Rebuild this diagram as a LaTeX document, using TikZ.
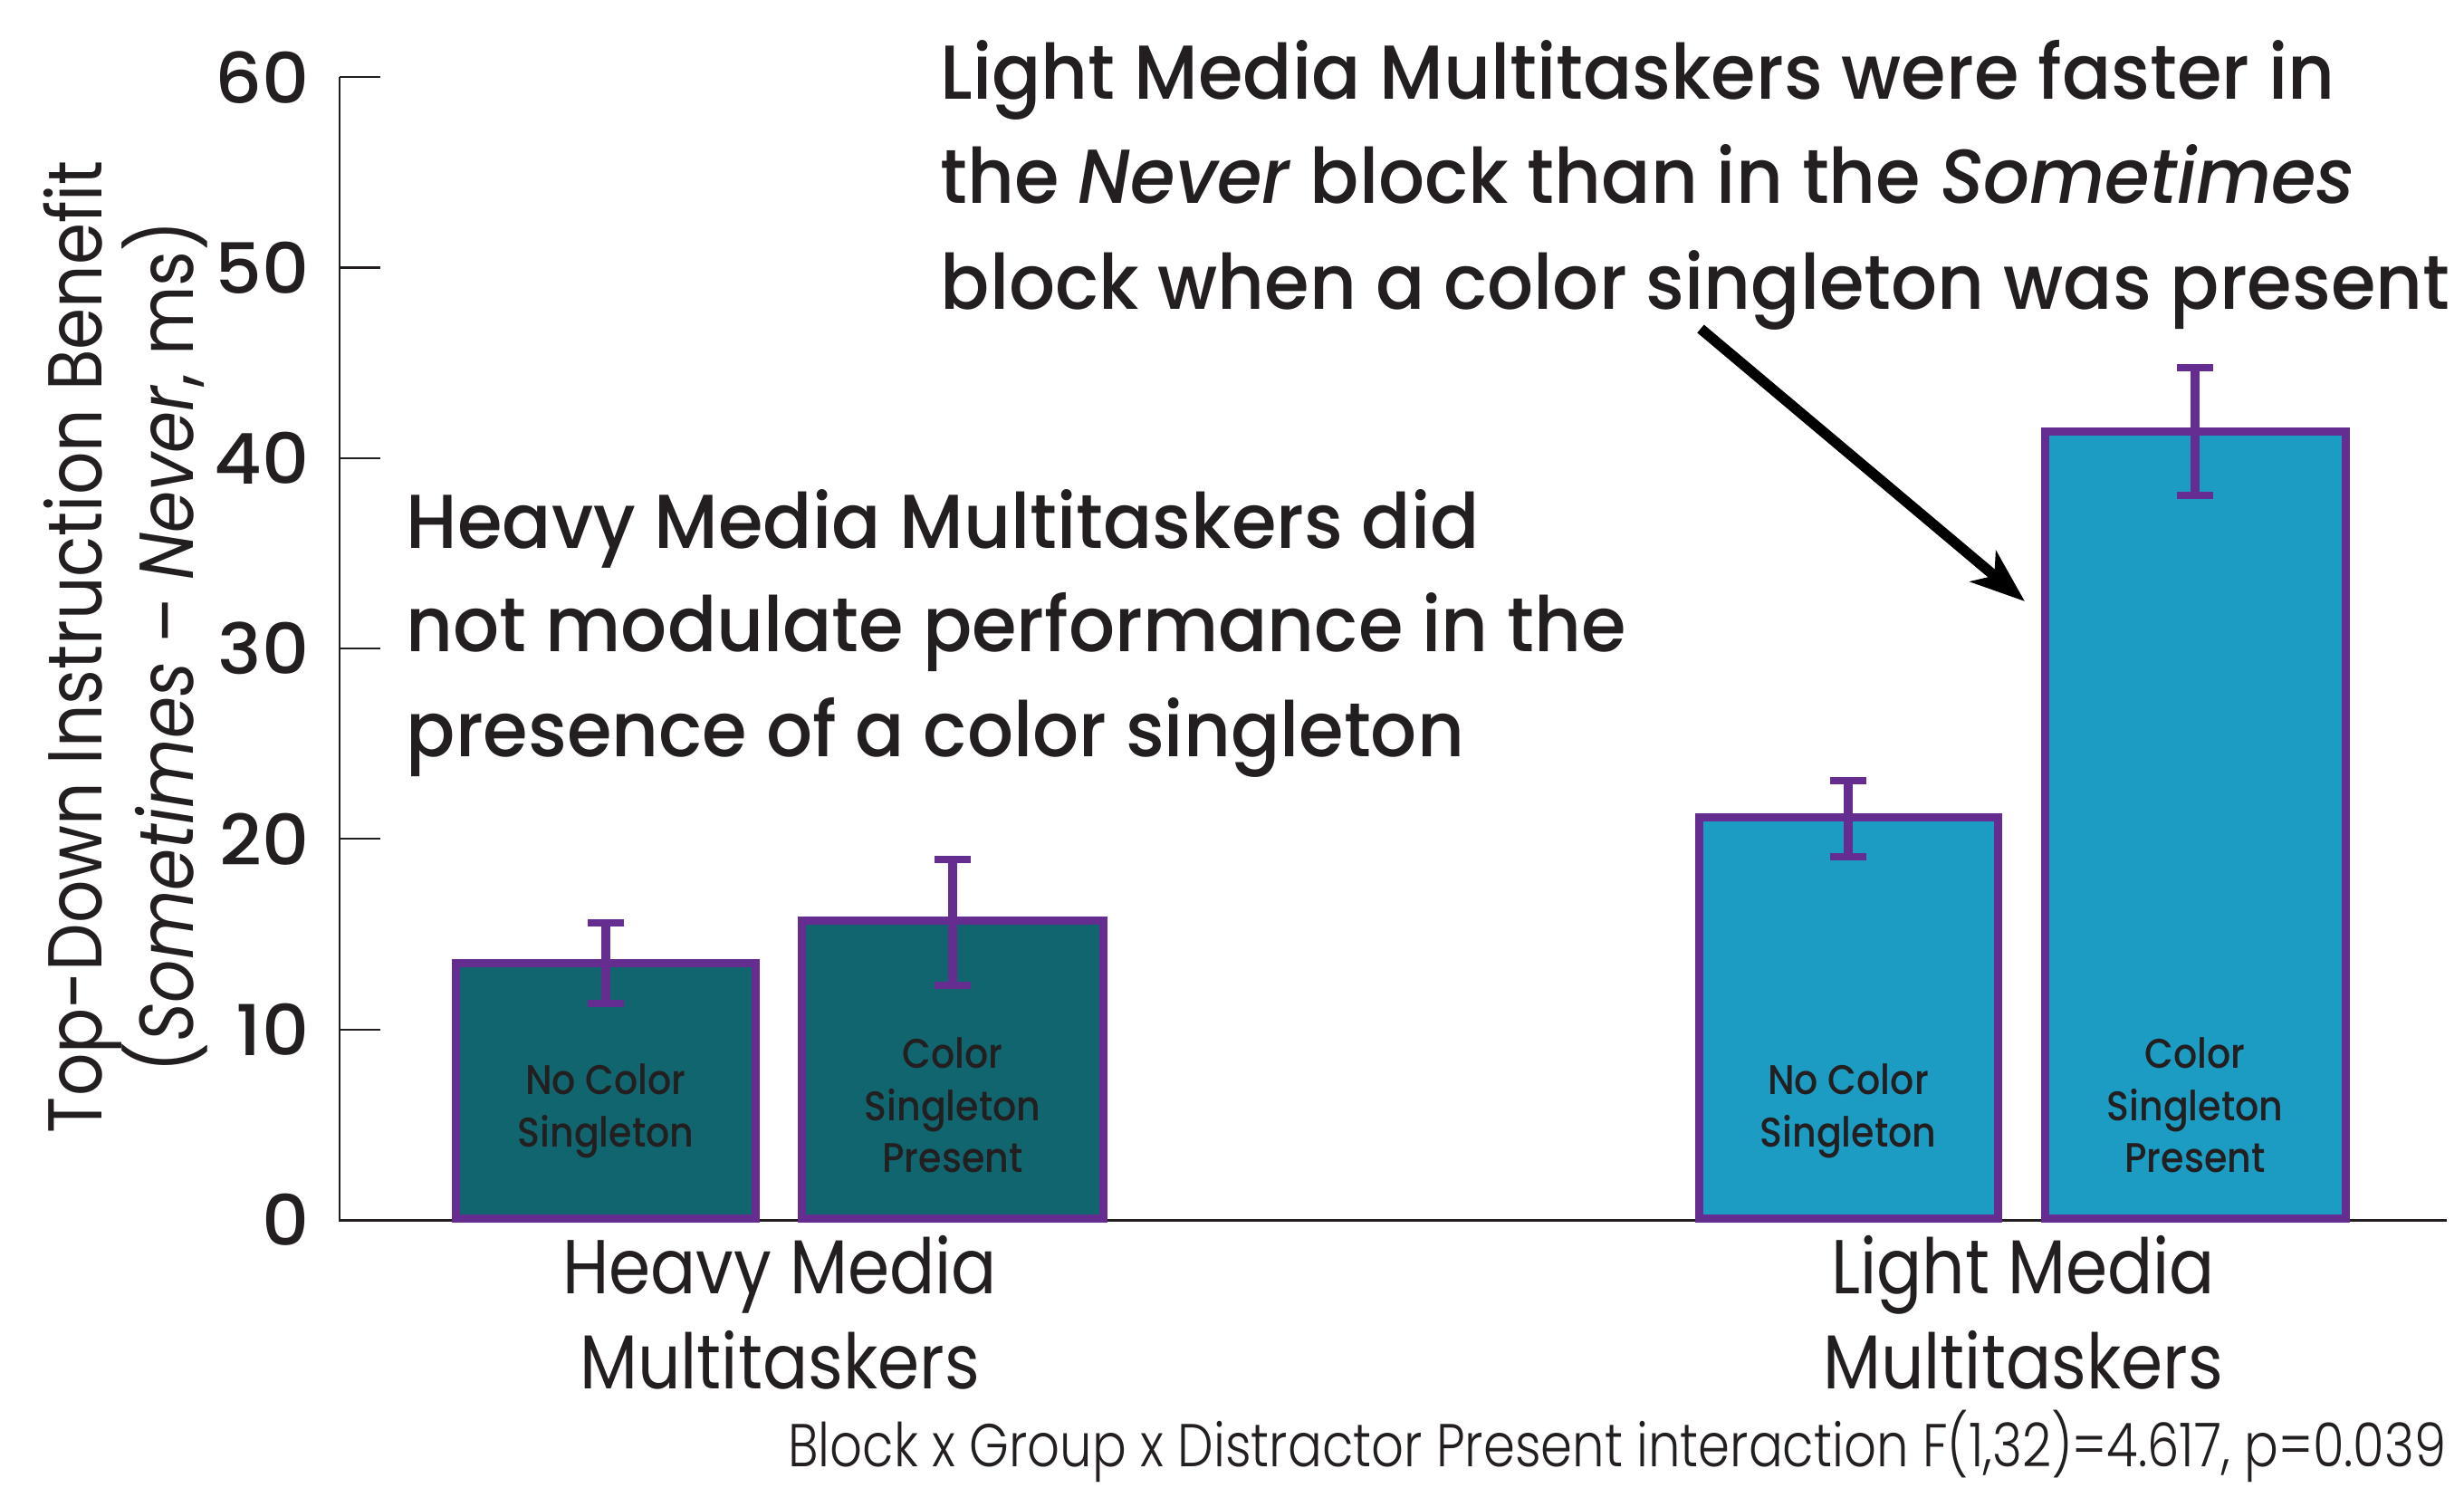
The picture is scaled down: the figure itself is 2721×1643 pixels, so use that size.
\documentclass[tikz,border=0pt]{standalone}
\usepackage{fontspec}
\setmainfont{Poppins}[FakeStretch=0.88]
\IfFontExistsTF{Poppins Light}{\newfontfamily\lightfont{Poppins Light}[FakeStretch=0.84]}{\newfontfamily\lightfont{Poppins}[FakeStretch=0.84]}
\IfFontExistsTF{Poppins Medium}{%
  \newfontfamily\annfont{Poppins Medium}[FakeStretch=0.95]%
  \newfontfamily\tickfont{Poppins Medium}[FakeStretch=1.05]%
  \newfontfamily\barfont{Poppins Medium}[FakeStretch=0.9]%
}{%
  \newfontfamily\annfont{Poppins}[FakeStretch=0.96,FakeBold=0.6]%
  \newfontfamily\tickfont{Poppins}[FakeStretch=1.08,FakeBold=0.6]%
  \newfontfamily\barfont{Poppins}[FakeStretch=0.92,FakeBold=0.6]%
}
\usetikzlibrary{arrows.meta}
\definecolor{hmm}{HTML}{10656F}
\definecolor{lmm}{HTML}{1C9BC3}
\definecolor{purp}{HTML}{662D91}
\definecolor{ink}{HTML}{231F20}
\begin{document}
\begin{tikzpicture}[x=0.01cm,y=-0.01cm,
  txt/.style={inner sep=0pt, text=ink},
  ann/.style={txt, anchor=base west, font=\annfont\fontsize{24pt}{24pt}\selectfont},
  xlab/.style={txt, anchor=base, font=\fontsize{24pt}{24pt}\selectfont},
  ylab/.style={txt, anchor=base, rotate=90, font=\fontsize{24pt}{24pt}\selectfont},
  ticklab/.style={txt, anchor=east, font=\tickfont\fontsize{22pt}{22pt}\selectfont},
  barlab/.style={txt, anchor=base, font=\barfont\fontsize{13pt}{13pt}\selectfont},
  barbox/.style={draw=purp, line width=2.56pt},
  errstem/.style={draw=purp, line width=2.85pt},
  errcap/.style={draw=purp, line width=2.3pt},
  axisline/.style={draw=ink, line width=0.85pt},
  tickline/.style={draw=ink, line width=0.6pt},
  pointer/.style={draw=black, line width=3.3pt, -{Stealth[length=17pt,width=12.5pt,inset=4.5pt]}}
]
\useasboundingbox (0,0) rectangle (2721,1643);

% axes
\draw[axisline] (375,85) -- (375,1347) -- (2702,1347);
\foreach \v in {0,10,...,60}{
  \draw[tickline] (375,{1347-21.03*\v}) -- (420,{1347-21.03*\v});
  \node[ticklab] (t\v) at (342,{1347-21.03*\v}) {\v};
}

% bars
\draw[barbox, fill=hmm] (503.5,1345.5) rectangle (834.5,1063.5);
\draw[barbox, fill=hmm] (885.5,1345.5) rectangle (1218.5,1016.5);
\draw[barbox, fill=lmm] (1876.5,1345.5) rectangle (2206.5,902.5);
\draw[barbox, fill=lmm] (2258.5,1345.5) rectangle (2590.5,476.5);

% error bars
\draw[errstem] (669,1019) -- (669,1108);
\draw[errcap] (649,1019) -- (689,1019) (649,1108) -- (689,1108);
\draw[errstem] (1052,949) -- (1052,1088);
\draw[errcap] (1032,949) -- (1072,949) (1032,1088) -- (1072,1088);
\draw[errstem] (2041,862) -- (2041,946);
\draw[errcap] (2021,862) -- (2061,862) (2021,946) -- (2061,946);
\draw[errstem] (2424,406) -- (2424,547);
\draw[errcap] (2404,406) -- (2444,406) (2404,547) -- (2444,547);

% bar labels
\node[barlab] (b1a) at (669,1208) {No Color};
\node[barlab] (b1b) at (669,1266) {Singleton};
\node[barlab] (b2a) at (1052,1179) {Color};
\node[barlab] (b2b) at (1052,1237) {Singleton};
\node[barlab] (b2c) at (1052,1294) {Present};
\node[barlab] (b3a) at (2041,1208) {No Color};
\node[barlab] (b3b) at (2041,1266) {Singleton};
\node[barlab] (b4a) at (2424,1179) {Color};
\node[barlab] (b4b) at (2424,1237) {Singleton};
\node[barlab] (b4c) at (2424,1294) {Present};

% y axis label
\node[ylab] (y1) at (112,714) {Top-Down Instruction Benefit};
\node[ylab] (y2) at (213,714) {(\textit{Sometimes} – \textit{Never}, ms)};

% x labels
\node[xlab] (x1a) at (861,1428) {Heavy Media};
\node[xlab] (x1b) at (861,1533) {Multitaskers};
\node[xlab] (x2a) at (2234,1428) {Light Media};
\node[xlab] (x2b) at (2234,1533) {Multitaskers};

% annotations
\node[ann] (l1) at (1038,110) {Light Media Multitaskers were faster in};
\node[ann] (l2) at (1038,225) {the \textit{Never} block than in the \textit{Sometimes}};
\node[ann] (l3) at (1038,342) {block when a color singleton was present};
\node[ann] (h1) at (448,606) {Heavy Media Multitaskers did};
\node[ann] (h2) at (448,720) {not modulate performance in the};
\node[ann] (h3) at (448,835) {presence of a color singleton};

% arrow
\coordinate (arrS) at (1878,363);
\coordinate (arrE) at (2236,664);
\draw[pointer] (arrS) -- (arrE);

% footer
\node[txt, anchor=base east, font=\lightfont\fontsize{19pt}{19pt}\selectfont] (foot) at (2702,1619) {Block x Group x Distractor Present interaction F(1,32)=4.617, p=0.039};
\end{tikzpicture}
\end{document}
